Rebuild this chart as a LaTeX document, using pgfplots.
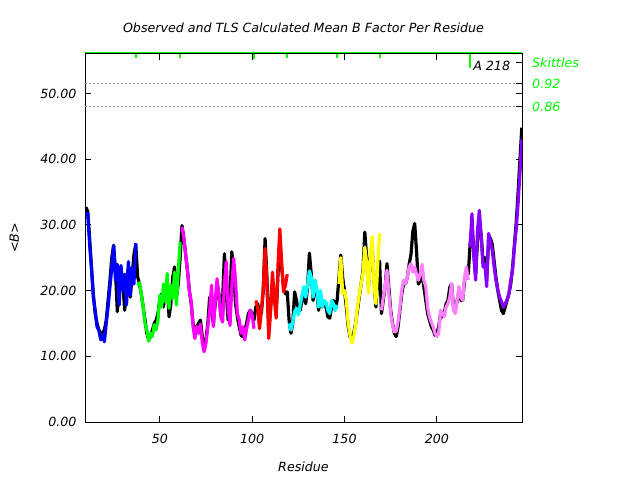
\documentclass[border=0pt]{standalone}
\usepackage{fontspec}
\setmainfont{DejaVu Sans}[ItalicFont={DejaVu Sans Oblique}]
\usepackage{pgfplots}
\pgfplotsset{compat=1.18}
\usepackage{pgfplotstable}
\definecolor{cblue}{RGB}{0,0,255}
\definecolor{cgreen}{RGB}{0,255,0}
\definecolor{cmag}{RGB}{255,0,255}
\definecolor{cred}{RGB}{255,0,0}
\definecolor{ccyan}{RGB}{0,255,255}
\definecolor{cyel}{RGB}{255,255,0}
\definecolor{cpink}{RGB}{255,128,255}
\definecolor{cpurp}{RGB}{136,0,255}
\definecolor{dotgray}{RGB}{150,150,150}

\pgfplotstableread{
r b
10 32.7
11 32.0
12 28
13 23.5
14 19.5
15 16.5
16 15
17 14
18 13.5
19 13.5
20 14
21 15.5
22 18.5
23 21.5
24 25
25 26.9
26 23
27 16.8
28 21
29 23
30 21
31 17
32 21.5
33 23.5
34 19
35 22
36 25.5
37 27
38 22.1
39 21
40 19.5
41 17.5
42 15.5
43 13.5
44 12.5
45 13
46 14
47 15
48 15.5
49 16.5
50 18.5
51 19.5
52 17.5
53 20.5
54 21
55 16
56 18
57 22
58 23.6
59 19
60 21
61 25
62 29.9
63 28
64 25.5
65 23
66 20
67 18
68 15
69 13.5
70 14.5
71 15
72 15.5
73 13
74 11.2
75 12.5
76 15
77 19
78 17
79 15
80 18
81 20.5
82 19.5
83 16.5
84 18.5
85 25.6
86 19.5
87 15.5
88 19
89 25.9
90 22.5
91 18
92 16
93 14.5
94 13.2
95 13
96 13.8
97 15
98 16.5
99 17
100 16.5
101 15.5
102 17.5
103 18
104 16.5
105 16.5
106 20
107 27.9
108 22
109 14
110 17.5
111 21.5
112 19.5
113 16.5
114 22.5
115 27.5
116 23.5
117 20.5
118 19.5
119 19.8
120 15.5
121 13.5
122 15
123 19.8
124 18.5
125 17
126 17
127 18.5
128 20
129 18
130 20.5
131 25.7
132 22.5
133 18.5
134 20.5
135 20
136 17
137 19.5
138 17.5
139 18
140 17.5
141 16
142 15.8
143 17.5
144 18.5
145 17
146 18.5
147 22
148 25.4
149 22
150 20
151 17.5
152 14.5
153 13
154 12.5
155 13.5
156 15
157 17
158 19
159 21
160 23
161 28.9
162 25
163 20.5
164 25
165 26.5
166 21.5
167 17.5
168 22
169 24.5
170 16.5
171 18.5
172 20.5
173 24.1
174 20.5
175 17
176 15
177 13.5
178 13
179 14.5
180 17
181 19.5
182 21
183 21
184 22
185 24
186 25.5
187 29
188 30.2
189 26
190 21
191 21.5
192 22.5
193 20.5
194 18.5
195 16.5
196 15.5
197 14.5
198 14
199 13.2
200 13.5
201 14.5
202 16.5
203 16
204 16.5
205 18
206 18.5
207 20.5
208 21
209 17.5
210 17
211 18.5
212 20
213 18.5
214 18.5
215 21.5
216 23
217 22.5
218 27
219 30
220 26
221 22.5
222 27.5
223 30.5
224 28.5
225 24.5
226 25
227 22
228 27.5
229 28
230 27
231 24.5
232 22
233 20
234 18.5
235 17
236 16.5
237 17.5
238 18.5
239 19.5
240 21
241 23.5
242 27
243 30.5
244 35
245 40
246 44.8
}\obs

\pgfplotstableread{
r t
10 31.5
11 31.8
12 27
13 23.5
14 19
15 17
16 14.5
17 14
18 12.5
19 13.2
20 12.2
21 15
22 17.5
23 20.5
24 23.5
25 26.8
26 21.5
27 24
28 17.8
29 23.8
30 20
31 22.5
32 17.8
33 24.4
34 19.3
35 23.5
36 21
37 27.2
}\tA
\pgfplotstableread{
r t
38 20.8
39 21.2
40 19.5
41 17.5
42 15
43 14
44 12.3
45 13.5
46 13
47 14.8
48 14
49 15.5
50 19.3
51 17.5
52 21
53 18.3
54 22.6
55 17.3
56 20.8
57 18.8
58 22.8
59 17.8
60 23
61 27.4
}\tB
\pgfplotstableread{
r t
62 29.7
63 28
64 25.5
65 23
66 20
67 18.3
68 14.5
69 12.7
70 14.5
71 13.5
72 14.9
73 12
74 10.7
75 12
76 14.5
77 16.8
78 20.8
79 14.5
80 18.3
81 21.8
82 19.5
83 16
84 15.2
85 21
86 24.4
87 17.5
88 14.7
89 20.5
90 24.9
91 21.5
92 16.5
93 15.5
94 13.5
95 14.5
96 12.5
97 14.2
98 15.5
99 17
100 16.3
101 14.2
}\tC
\pgfplotstableread{
r t
102 18.5
103 17.3
104 14.2
105 17
106 20.3
107 26.4
108 20.8
109 12.7
110 17
111 22.8
112 18.8
113 15.8
114 24
115 29.4
116 24
117 19.8
118 20.8
119 22.5
}\tD
\pgfplotstableread{
r t
120 15
121 14
122 15.2
123 16.8
124 17.3
125 16.3
126 17.8
127 19.3
128 20.6
129 19
130 20.8
131 23
132 22
133 19
134 21.6
135 20.3
136 17.5
137 20
138 17.5
139 18.5
140 18.2
141 17
142 16.5
143 18.5
144 18
145 17
146 17.8
}\tE
\pgfplotstableread{
r t
147 21
148 25
149 19.5
150 20
151 18.5
152 15
153 13.2
154 12
155 13
156 14.8
157 17.5
158 19.3
159 21
160 22.6
161 26.6
162 24.1
163 19.6
164 25.6
165 28.2
166 20.6
167 18
168 24.1
169 28.7
}\tF
\pgfplotstableread{
r t
170 17
171 19
172 20.6
173 23.1
174 19.6
175 16.5
176 14.7
177 13.7
178 13.8
179 15.3
180 17.5
181 20.1
182 21.6
183 21
184 22.1
185 23.6
186 24.1
187 22.8
188 23.6
189 22.5
190 21.6
191 22.5
192 24
193 21.5
194 20.6
195 17.5
196 16
197 15.2
198 14.5
199 13.5
200 13
201 13.5
202 17
203 16.5
204 16
205 17.5
206 18
207 19
208 21.1
209 17
210 16.5
211 18.5
212 20.6
213 19
214 18.5
215 22.1
216 23.6
217 21.6
}\tG
\pgfplotstableread{
r t
218 26.6
219 31.7
220 25.1
221 21.6
222 29.2
223 32.2
224 28.2
225 23.6
226 24
227 20.6
228 28.7
229 27.5
230 26.1
231 23.6
232 21.6
233 20.1
234 19
235 18.3
236 17.5
237 18
238 18.6
239 19.5
240 21.5
241 23.1
242 26.6
243 29.5
244 33.3
245 38
246 43
}\tH

\begin{document}
\begin{tikzpicture}
\useasboundingbox (-85bp,-58bp) rectangle (555bp,422bp);
\begin{axis}[
  at={(0,0)}, anchor=south west,
  scale only axis, width=437bp, height=368bp,
  xmin=9.5, xmax=246.1, ymin=0, ymax=56,
  xtick={50,100,150,200}, ytick={0,10,20,30,40,50},
  tick align=inside, major tick length=6bp,
  axis line style={line width=1pt},
  major tick style={line width=1pt, black},
  /pgf/number format/assume math mode=true,
  tick label style={font=\fontsize{12.7}{14}\selectfont\itshape},
  yticklabel style={xshift=-5bp, /pgf/number format/.cd, fixed, fixed zerofill, precision=2},
  xticklabel style={yshift=-9bp, /pgf/number format/.cd, fixed, precision=0},
  title={Observed and TLS Calculated Mean B Factor Per Residue},
  title style={font=\fontsize{12.7}{14}\selectfont\itshape, at={(axis description cs:0.5,1.054)}, anchor=center},
  xlabel={Residue},
  xlabel style={font=\fontsize{12.7}{14}\selectfont\itshape, at={(axis description cs:0.5,-0.122)}, anchor=center},
  ylabel={<B>},
  ylabel style={font=\fontsize{12.7}{14}\selectfont\itshape, at={(axis description cs:-0.162,0.5)}, anchor=center},
  unbounded coords=jump,
]
\addplot[dotgray, line width=0.8pt, dash pattern=on 2bp off 2bp, forget plot] coordinates {(9.5,51.5) (246.1,51.5)};
\addplot[dotgray, line width=0.8pt, dash pattern=on 2bp off 2bp, forget plot] coordinates {(9.5,48.0) (246.1,48.0)};
\addplot[black, line width=3.2pt, line join=round] table[x=r,y=b]{\obs};
\addplot[cblue, line width=3.2pt, line join=round] table[x=r,y=t]{\tA};
\addplot[cgreen, line width=3.2pt, line join=round] table[x=r,y=t]{\tB};
\addplot[cmag, line width=3.2pt, line join=round] table[x=r,y=t]{\tC};
\addplot[cred, line width=3.2pt, line join=round] table[x=r,y=t]{\tD};
\addplot[ccyan, line width=3.2pt, line join=round] table[x=r,y=t]{\tE};
\addplot[cyel, line width=3.2pt, line join=round] table[x=r,y=t]{\tF};
\addplot[cpink, line width=3.2pt, line join=round] table[x=r,y=t]{\tG};
\addplot[cpurp, line width=3.2pt, line join=round] table[x=r,y=t]{\tH};
\addplot[cgreen, line width=2bp, forget plot] coordinates {
 (37,56) (37,55.4) (37,nan)
 (61,56) (61,55.4) (61,nan)
 (101,56) (101,55.2) (101,nan)
 (119,56) (119,55.4) (119,nan)
 (146,56) (146,55.4) (146,nan)
 (169,56) (169,55.4) (169,nan)
 (218,56) (218,53.9)};
\coordinate (sk) at (axis cs:246.1,54.7);
\coordinate (s92) at (axis cs:246.1,51.5);
\coordinate (s86) at (axis cs:246.1,48.0);
\coordinate (a218) at (axis cs:219.6,54.2);
\coordinate (tl) at (axis cs:9.5,56);
\coordinate (tr) at (axis cs:246.1,56);
\end{axis}
\draw[cgreen, line width=1.2pt] ([yshift=1.1pt]tl) -- ([yshift=1.1pt]tr);
\foreach \c in {sk,s92,s86} \draw[line width=1pt] (\c) -- ++(-6bp,0);
\begin{scope}[font=\fontsize{12.7}{14}\selectfont\itshape]
\node[anchor=west, text=cgreen, inner sep=0pt] at ([xshift=10bp]sk) {Skittles};
\node[anchor=west, text=cgreen, inner sep=0pt] at ([xshift=10bp]s92) {0.92};
\node[anchor=west, text=cgreen, inner sep=0pt] at ([xshift=10bp]s86) {0.86};
\node[anchor=west, inner sep=0pt] at (a218) {A 218};
\end{scope}
\end{tikzpicture}
\end{document}
